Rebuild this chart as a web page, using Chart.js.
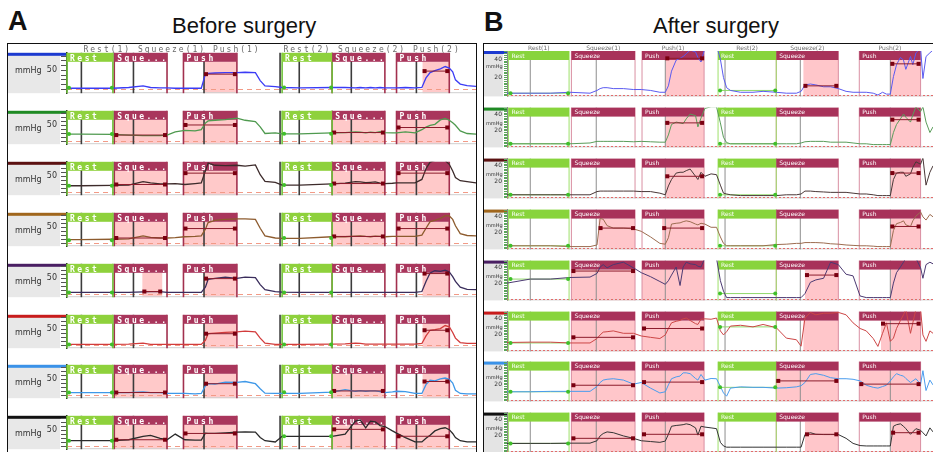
<!DOCTYPE html>
<html>
<head>
<meta charset="utf-8">
<title>Anorectal manometry before and after surgery</title>
<script src="https://cdn.jsdelivr.net/npm/chart.js@4.4.1/dist/chart.umd.min.js"></script>
<style>
  body { margin: 0; width: 933px; height: 452px; overflow: hidden; background: #fff; position: relative; font-family: "Liberation Sans", Arial, sans-serif; }
  .tag { position: absolute; font-weight: bold; font-size: 27px; line-height: 1; color: #111; }
  .title { position: absolute; font-size: 22px; line-height: 1; color: #111; }
  .frame { position: absolute; border: 1.5px solid #111; box-sizing: border-box; }
  canvas { position: absolute; }
</style>
</head>
<body>
<div class="tag" style="left:8px;top:8px">A</div>
<div class="title" style="left:172px;top:15px">Before surgery</div>
<div class="tag" style="left:484px;top:9px">B</div>
<div class="title" style="left:653px;top:15px">After surgery</div>
<div class="frame" style="left:7px;top:43px;width:470px;height:420px"></div>
<div class="frame" style="left:483px;top:43px;width:460px;height:420px"></div>
<script>
// sensor colours, top to bottom
const channelColors = ['#1c3ad0', '#1f8a24', '#5c1212', '#a0661c', '#4a1f63', '#c81c1c', '#3a92e8', '#111111'];
const traceColorsA = ['#3b3bf5', '#4f9a4f', '#3d2b2b', '#8d5b2e', '#3a2d5c', '#d23c3c', '#3e98e8', '#2a2a2a'];
const traceColorsB = ['#5a5af0', '#5a9c5a', '#4a3838', '#9c6c50', '#4c3a72', '#cc4646', '#4a9cee', '#333333'];

//panel A - before surgery (time in s, pressure in mmHg)
const timeA = [1.0, 3.0, 7.7, 10.0, 12.1, 13.2, 14.6, 15.6, 16.8, 18.2, 19.7, 20.6, 21.2, 21.6, 22.6, 24.1, 25.8, 27.0, 28.5, 29.2, 29.9, 31.4, 32.4, 35.0, 39.7, 41.6, 43.1, 43.8, 44.6, 45.3, 46.0, 46.7, 47.4, 48.5, 49.1, 50.4, 51.8, 52.8, 53.4, 54.0, 54.7, 55.5, 56.2, 56.8, 57.3, 57.7, 58.4, 59.4, 60.7];
const a1 = [3, 3, 3, 5, 9, 5, 4, 4, 3, 3, 3, 3, 40, 42, 43, 44, 44, 45, 44, 23, 9, 7, 5, 4, 5, 5, 4, 5, 4, 5, 4, 5, 4, 4, 4, 5, 4, 5, 30, 44, 49, 54, 60, 56, 46, 25, 14, 10, 8];
const a2 = [22, 22, 21, 19, 17, 17, 17, 19, 29, 34, 32, 36, 57, 64, 66, 68, 73, 66, 62, 45, 24, 26, 23, 23, 26, 27, 29, 28, 26, 28, 27, 30, 27, 26, 26, 29, 26, 36, 44, 50, 53, 67, 72, 66, 58, 50, 32, 24, 22];
const a3 = [20, 20, 21, 22, 33, 29, 26, 26, 27, 24, 27, 29, 67, 92, 85, 84, 85, 82, 86, 55, 34, 31, 22, 22, 26, 28, 33, 32, 30, 31, 32, 28, 27, 28, 29, 29, 29, 40, 74, 95, 100, 100, 100, 88, 67, 46, 36, 33, 29];
const a4 = [11, 11, 12, 13, 23, 18, 16, 16, 17, 20, 21, 23, 44, 65, 72, 75, 77, 77, 75, 47, 23, 16, 15, 15, 20, 20, 22, 23, 21, 20, 22, 21, 20, 21, 21, 21, 21, 25, 47, 68, 72, 78, 87, 86, 75, 55, 30, 24, 23];
const a5 = [5, 5, 5, 5, 7, 8, 8, 5, 5, 5, 5, 5, 22, 47, 50, 54, 50, 54, 52, 30, 14, 8, 6, 5, 5, 5, 5, 5, 5, 5, 5, 5, 5, 5, 5, 5, 5, 8, 40, 67, 74, 72, 76, 70, 55, 40, 22, 15, 14];
const a6 = [2, 2, 2, 3, 6, 2, 2, 2, 2, 2, 2, 2, 15, 36, 38, 40, 42, 44, 42, 22, 6, 2, 2, 2, 3, 4, 6, 5, 3, 3, 3, 3, 3, 3, 3, 3, 3, 5, 29, 47, 49, 52, 62, 58, 40, 22, 8, 5, 5];
const a7 = [8, 8, 8, 8, 10, 8, 8, 5, 5, 5, 4, 5, 29, 36, 35, 41, 40, 43, 36, 20, 6, 5, 5, 5, 9, 17, 12, 14, 12, 13, 13, 11, 8, 10, 12, 11, 5, 5, 33, 47, 45, 51, 54, 50, 38, 15, 5, 4, 4];
const a8 = [17, 17, 17, 20, 31, 34, 24, 20, 38, 20, 19, 19, 41, 40, 40, 42, 44, 45, 44, 27, 17, 13, 31, 31, 31, 38, 79, 83, 58, 79, 77, 65, 62, 48, 41, 27, 13, 13, 25, 34, 48, 55, 58, 52, 40, 27, 17, 13, 13];

const phasesA = [[1.0, 7.7], [7.9, 15.6], [18.0, 25.8], [32.4, 39.7], [39.7, 47.4], [49.1, 56.8]];
const phaseTextA = ['Rest', 'Sque...', 'Push', 'Rest', 'Sque...', 'Push'];
// analysis windows per sensor: [start, end, mean level]
const windowsA = [
    [[21.0, 25.8, 40], [52.9, 56.8, 48]],
    [[7.9, 15.6, 19], [18.0, 25.8, 51], [39.7, 47.4, 27], [49.1, 56.8, 43]],
    [[7.9, 15.6, 24], [18.0, 25.8, 60], [39.7, 47.4, 27], [49.1, 56.8, 60]],
    [[7.9, 15.6, 16], [18.0, 25.8, 46], [39.7, 47.4, 21], [49.1, 56.8, 46]],
    [[12.0, 14.9, 8], [21.0, 25.8, 49], [52.9, 56.8, 65]],
    [[21.0, 25.8, 36], [52.9, 56.8, 47]],
    [[7.9, 15.6, 8], [21.0, 25.8, 36], [39.7, 47.4, 13], [52.9, 56.8, 43]],
    [[7.9, 15.6, 20], [18.0, 25.8, 40], [39.7, 47.4, 53], [49.1, 56.8, 31]]
];
const restA = [[4, 5], [22, 23], [20, 22], [9, 16], [5, 5], [2, 2], [8, 9], [17, 31]];
const cursorsA = [3.1, 10.7, 21.0, 32.1, 34.9, 42.5, 52.0];
const topTextA = ['Rest(1) Squeeze(1) Push(1)', 'Rest(2) Squeeze(2) Push(2)'];
const topTimesA = [3.4, 32.6];
const tickTimesA = [20, 40, 60];
const tickLabelsA = ['00:20', '00:40', '01:00'];

//panel B - after surgery
const timeB = [0.1, 3.1, 5.7, 8.2, 10.8, 11.7, 12.1, 12.5, 13.0, 13.8, 15.1, 16.4, 17.4, 18.6, 19.8, 20.5, 20.9, 21.3, 21.9, 22.4, 22.8, 23.2, 23.7, 24.4, 24.7, 25.1, 25.6, 26.4, 27.1, 27.6, 28.0, 28.4, 28.9, 30.2, 31.8, 33.1, 34.8, 36.1, 37.4, 38.0, 38.5, 39.2, 39.9, 40.9, 41.8, 42.8, 43.8, 44.7, 45.6, 46.4, 47.3, 47.9, 48.5, 49.0, 49.5, 49.9, 50.3, 50.8, 51.2, 51.5, 52.1, 52.4, 52.8, 53.4, 53.7, 54.1, 54.6, 55.0];
const b1 = [3, 3, 3, 4, 3, 6, 8, 9, 9, 8, 8, 7, 7, 6, 4, 4, 11, 27, 39, 41, 43, 46, 50, 48, 42, 37, 52, 55, 55, 40, 20, 9, 6, 4, 4, 5, 4, 3, 3, 5, 12, 13, 12, 10, 10, 8, 5, 4, 4, 4, 3, 1, 4, 2, 2, 21, 34, 42, 39, 29, 43, 34, 47, 52, 19, 43, 47, 50];
const b2 = [4, 4, 4, 4, 5, 7, 7, 7, 7, 7, 7, 6.5, 7, 6.5, 6, 6, 15, 28, 31, 30, 29, 35, 41, 39, 25, 36, 48, 50, 50, 30, 12, 5.5, 4, 4, 4, 4, 4, 4, 4, 5, 6.5, 7, 7, 7, 6, 6, 6, 5, 4, 4, 3, 3, 3, 3, 3, 18, 28, 35, 41, 37, 31, 40, 50, 44, 50, 31, 18, 25];
const b3 = [4, 4, 4, 4, 4, 8, 8.6, 8.6, 8.6, 8.6, 8.6, 8.6, 8, 8, 6, 4, 15, 23, 31, 32, 32, 34, 36, 27, 23, 32, 27, 30, 29, 16, 6, 5, 4, 3, 3, 3, 3, 4, 4, 5, 8.6, 8.6, 8, 7.5, 7, 7, 7, 6, 5, 5, 4, 3, 3, 3, 3, 23, 31, 32, 32, 27, 30, 38, 45, 42, 50, 16, 32, 40];
const b4 = [4, 4, 4, 3, 3, 5, 38, 37, 29, 26, 26, 25, 22, 15, 7, 6, 14, 31, 32, 32.5, 34, 35, 34, 31, 30, 32, 31, 27, 27, 15, 7, 4, 4, 4, 4, 4, 5.5, 6, 7, 7, 8, 8, 8, 7.5, 6.5, 6, 5, 4.5, 4, 4, 3.5, 3, 3, 3, 3, 23, 31.5, 33, 35, 30, 28, 35, 41, 46, 40, 36, 43, 40];
const b5 = [21, 26, 26, 28, 28.5, 33, 41, 44, 40, 44, 47, 40, 34, 29, 23, 19.5, 24, 31, 41, 18, 41, 47, 45, 44, 42, 41, 52, 52, 52, 24, 11, 3, 3, 3, 3, 3, 3, 3, 3, 3, 8, 22, 25, 27, 47, 44, 32, 30, 5, 3, 3, 3, 3, 3, 3, 21, 34, 41, 47, 52, 52, 52, 52, 40, 27, 44, 47, 45];
const b6 = [10.6, 11, 11, 10, 10, 15.5, 20, 23.5, 24, 25, 22, 22, 18.7, 17, 15.5, 20, 28, 35, 37, 38, 40, 41, 38, 34, 33, 39.5, 40, 39.5, 41, 25, 20, 24, 31, 32, 30, 33, 29, 16, 14, 6, 41, 48, 45, 47, 47, 48, 45, 35, 28, 25, 15.5, 5.7, 22, 35, 12, 16, 28, 38, 45, 52, 22, 35, 52, 52, 20, 12, 25, 22];
const b7 = [11.5, 11.5, 12, 12, 12, 18, 23, 26, 27, 27.7, 26, 21, 23, 16, 10, 11.5, 20, 27.7, 30, 31, 35, 35, 34, 28, 26, 33, 26, 28, 27.7, 18, 10, 6, 16, 17.6, 17, 17, 16, 16.5, 17.6, 19, 23, 33, 34, 32, 29, 27.7, 27.7, 27, 25, 19.6, 17, 16, 18, 19.6, 25, 30, 34, 32, 31, 28, 23, 25, 27.7, 21, 37.7, 13, 26, 20];
const b8 = [10.7, 10.7, 10.7, 11, 11, 14, 20, 23, 25, 24, 20, 17, 14, 13, 12, 13.6, 22, 32, 33, 33.5, 34, 35, 34, 30, 21, 32, 31, 30, 29, 12, 7.5, 6, 6, 6, 6, 6, 6, 6, 6, 6, 21.7, 24, 22, 21.7, 21.7, 21.7, 17, 10.7, 8, 7.5, 7.5, 7.5, 7.5, 7.5, 7.5, 32, 34, 35, 32, 29, 22, 25, 29, 27, 24, 20, 30, 25];

const phasesB = [[0.3, 8.1], [8.4, 16.6], [17.5, 25.5], [27.3, 34.8], [34.8, 42.8], [45.5, 53.4]];
const phaseTextB = ['Rest', 'Squeeze', 'Push', 'Rest', 'Squeeze', 'Push'];
const windowsB = [
    [[20.5, 25.5, 41], [38.3, 42.8, 11], [49.5, 53.4, 35]],
    [[20.5, 25.5, 30], [49.5, 53.4, 34]],
    [[20.5, 25.5, 27], [49.5, 53.4, 31]],
    [[11.9, 16.6, 26], [20.1, 25.5, 26], [49.5, 53.4, 28]],
    [[8.4, 16.6, 36], [17.5, 25.5, null], [38.5, 42.8, 31], [49.6, 53.4, null]],
    [[8.4, 16.6, 17], [17.5, 25.5, 28], [38.3, 42.8, null], [48.3, 53.4, 34]],
    [[8.4, 16.6, 19.6], [17.5, 25.5, 23.5], [34.8, 42.8, 25], [45.5, 53.4, 21]],
    [[8.4, 16.6, 17], [17.5, 25.5, 22], [38.5, 42.8, 22], [49.6, 53.4, 24]]
];
const restB = [[3, 6], [4, 4], [4, 4], [4, 4], [26, 8], [10, 30], [11.5, 17], [10.7, null]];
const cursorsB = [3.1, 11.6, 20.5, 28.2, 37.9, 49.5];
const topTextB = ['Rest(1)', 'Squeeze(1)', 'Push(1)', 'Rest(2)', 'Squeeze(2)', 'Push(2)'];
const tickTimesB = [5, 10, 15, 20, 25, 30, 35, 40, 45, 50, 55];
const tickLabelsB = ['00:05', '00:10', '00:15', '00:20', '00:25', '00:30', '00:35', '00:40', '00:45', '00:50', '00:55'];

const panels = [
    {
        left: 8, width: 468, axisWidth: 59, boxWidth: 52,
        tMin: 1.0, tMax: 60.7, yMin: -10, yMax: 96, yStep: 12.5, yLabels: [50],
        times: timeA, series: [a1, a2, a3, a4, a5, a6, a7, a8], colors: traceColorsA,
        phases: phasesA, phaseText: phaseTextA, windows: windowsA, rest: restA, cursors: cursorsA,
        topText: topTextA, topTimes: topTimesA, tickTimes: tickTimesA, tickLabels: tickLabelsA,
        look: {
            lineW: 1.3, box: '#e8e8e8', barH: 3, tickLen: 6, tickColor: '#555', border: '#222', borderW: 1.5,
            labelFont: '8px "DejaVu Sans"', labelPad: 4, unitFont: '8px "DejaVu Sans"', unitX: 7, unitY: 20,
            pink: '#ffc9c9', zero: '#f29a86', zeroDash: [5, 4], zeroAt: 0,
            cursor: '#3c3c3c', cursorW: 1.6, restLine: '#6fc23a', pushLine: '#a2304e', edgeW: 1.6,
            green: '#8ed13c', maroon: '#a9365c', headH: 9, headFont: 'bold 8px "DejaVu Sans Mono"', headSpacing: '2.5px', headY: 8,
            restMark: null,
            topFont: '8px "DejaVu Sans Mono"', topSpacing: '2px', topAlign: 'left',
            timeFont: '10px "DejaVu Sans"', timeColor: '#555', timeY: 45
        }
    },
    {
        left: 484, width: 449, axisWidth: 23, boxWidth: 19,
        tMin: 0.1, tMax: 55.0, yMin: -0.5, yMax: 49, yStep: 2, yLabels: [20, 40],
        times: timeB, series: [b1, b2, b3, b4, b5, b6, b7, b8], colors: traceColorsB,
        phases: phasesB, phaseText: phaseTextB, windows: windowsB, rest: restB, cursors: cursorsB,
        topText: topTextB, topTimes: phasesB.map(ph => (ph[0] + ph[1]) / 2), tickTimes: tickTimesB, tickLabels: tickLabelsB,
        look: {
            lineW: 1, box: '#e4e4e4', barH: 3, tickLen: 3, tickColor: '#5aa55a', border: '#888', borderW: 1,
            labelFont: '6px "DejaVu Sans"', labelPad: 2, unitFont: '5px "DejaVu Sans"', unitX: 2, unitY: 17,
            pink: '#ffc6ca', zero: '#e26b6b', zeroDash: [2, 2], zeroAt: 1,
            cursor: '#8e8e8e', cursorW: 1, restLine: '#9ee06a', pushLine: '#d98fa2', edgeW: 1,
            green: '#88d43c', maroon: '#a8325a', headH: 9, headFont: '6px "DejaVu Sans"', headSpacing: '0px', headY: 6.5,
            restMark: '#8fd86a',
            topFont: '6px "DejaVu Sans"', topSpacing: '0px', topAlign: 'center',
            timeFont: '7px "DejaVu Sans"', timeColor: '#444', timeY: 45
        }
    }
];

function decor(p, k) {
    const L = p.look;
    return {
        id: 'decor',
        beforeDraw(chart) {
            const { ctx, chartArea: a } = chart;
            ctx.save();
            ctx.fillStyle = L.box;
            ctx.fillRect(0, a.top, p.boxWidth, a.bottom - a.top);
            ctx.fillStyle = channelColors[k];
            ctx.fillRect(0, a.top, a.left, L.barH);
            ctx.fillStyle = '#333';
            ctx.font = L.unitFont;
            ctx.fillText('mmHg', L.unitX, a.top + L.unitY);
            ctx.restore();
        },
        beforeDatasetsDraw(chart) {
            const { ctx, chartArea: a, scales: { x, y } } = chart;
            const top = a.top, bot = a.bottom, hh = L.headH;
            ctx.save();
            // analysis windows
            ctx.fillStyle = L.pink;
            p.windows[k].forEach(w => {
                const x0 = x.getPixelForValue(w[0]), x1 = x.getPixelForValue(w[1]);
                ctx.fillRect(x0, top + hh, x1 - x0, bot - top - hh);
            });
            // row separator + zero line
            ctx.lineWidth = 1;
            ctx.strokeStyle = '#cfcfcf';
            ctx.beginPath(); ctx.moveTo(a.left, bot - 0.5); ctx.lineTo(a.right, bot - 0.5); ctx.stroke();
            const y0 = Math.round(y.getPixelForValue(L.zeroAt)) + 0.5;
            ctx.strokeStyle = L.zero;
            ctx.setLineDash(L.zeroDash);
            ctx.beginPath(); ctx.moveTo(a.left, y0); ctx.lineTo(a.right, y0); ctx.stroke();
            ctx.setLineDash([]);
            // cursors
            ctx.strokeStyle = L.cursor;
            ctx.lineWidth = L.cursorW;
            p.cursors.forEach(t => {
                const xx = x.getPixelForValue(t);
                ctx.beginPath(); ctx.moveTo(xx, top); ctx.lineTo(xx, bot); ctx.stroke();
            });
            // phase borders, maroon first then green
            ctx.lineWidth = L.edgeW;
            [false, true].forEach(restPass => {
                p.phases.forEach((ph, i) => {
                    if ((i % 3 === 0) !== restPass) return;
                    ctx.strokeStyle = restPass ? L.restLine : L.pushLine;
                    ph.forEach(t => {
                        const xx = x.getPixelForValue(t);
                        ctx.beginPath(); ctx.moveTo(xx, top); ctx.lineTo(xx, bot); ctx.stroke();
                    });
                });
            });
            // rest level line (under the trace)
            if (L.restMark) {
                ctx.strokeStyle = L.restMark;
                ctx.lineWidth = 1;
                p.rest[k].forEach((lv, j) => {
                    if (lv == null) return;
                    const ph = p.phases[j * 3];
                    const yy = y.getPixelForValue(lv);
                    ctx.beginPath(); ctx.moveTo(x.getPixelForValue(ph[0]) + 2, yy); ctx.lineTo(x.getPixelForValue(ph[1]) - 1, yy); ctx.stroke();
                });
            }
            // phase headers
            ctx.font = L.headFont;
            ctx.letterSpacing = L.headSpacing;
            p.phases.forEach((ph, i) => {
                const x0 = x.getPixelForValue(ph[0]), x1 = x.getPixelForValue(ph[1]);
                ctx.fillStyle = i % 3 === 0 ? L.green : L.maroon;
                ctx.fillRect(x0, top, x1 - x0, hh);
                ctx.fillStyle = '#fff';
                ctx.fillText(p.phaseText[i], x0 + 3, top + L.headY);
            });
            ctx.letterSpacing = '0px';
            ctx.restore();
        },
        afterDatasetsDraw(chart) {
            const { ctx, scales: { x, y } } = chart;
            ctx.save();
            ctx.lineWidth = 1;
            // window mean markers
            p.windows[k].forEach(w => {
                if (w[2] == null) return;
                const x0 = x.getPixelForValue(w[0]) + 2, x1 = x.getPixelForValue(w[1]) - 2;
                const yy = y.getPixelForValue(w[2]);
                ctx.strokeStyle = '#8c1c2c';
                ctx.beginPath(); ctx.moveTo(x0, yy); ctx.lineTo(x1, yy); ctx.stroke();
                ctx.fillStyle = '#7a0010';
                ctx.fillRect(x0 - 2, yy - 2, 4, 4);
                ctx.fillRect(x1 - 2, yy - 2, 4, 4);
            });
            // rest end dots
            p.rest[k].forEach((lv, j) => {
                if (lv == null) return;
                const ph = p.phases[j * 3];
                const yy = y.getPixelForValue(lv);
                ctx.fillStyle = '#3fbf2a';
                [x.getPixelForValue(ph[0]) + 2, x.getPixelForValue(ph[1]) - 1].forEach(xx => {
                    ctx.beginPath(); ctx.arc(xx, yy, 2, 0, Math.PI * 2); ctx.fill();
                });
            });
            ctx.restore();
        },
        afterDraw(chart) {
            const { ctx, chartArea: a, scales: { x } } = chart;
            ctx.save();
            // labels above first row
            if (k === 0) {
                ctx.font = L.topFont;
                ctx.letterSpacing = L.topSpacing;
                ctx.fillStyle = '#6a6a6a';
                ctx.textAlign = L.topAlign;
                p.topText.forEach((s, i) => ctx.fillText(s, x.getPixelForValue(p.topTimes[i]), a.top - 1));
                ctx.letterSpacing = '0px';
            }
            // time labels on last row
            if (k === 7) {
                ctx.font = L.timeFont;
                ctx.fillStyle = L.timeColor;
                ctx.textAlign = 'center';
                p.tickTimes.forEach((t, i) => ctx.fillText(p.tickLabels[i], x.getPixelForValue(t), a.top + L.timeY));
            }
            ctx.restore();
        }
    };
}

function makeRow(p, k) {
    const L = p.look;
    const rowTop = Math.round(51 + 50.9 * k);
    const extra = k === 0 ? 7 : 0;
    const canvas = document.createElement('canvas');
    canvas.width = p.width;
    canvas.height = 51 + extra;
    canvas.style.left = p.left + 'px';
    canvas.style.top = (rowTop - extra) + 'px';
    document.body.appendChild(canvas);

    new Chart(canvas, {
        type: 'line',
        data: {
            datasets: [{
                data: p.times.map((t, i) => ({ x: t, y: p.series[k][i] })),
                borderColor: p.colors[k],
                borderWidth: L.lineW,
                pointRadius: 0,
                tension: 0
            }]
        },
        options: {
            responsive: false,
            animation: false,
            events: [],
            layout: { padding: { top: extra, left: 0, right: 0, bottom: 0 } },
            plugins: { legend: { display: false }, tooltip: { enabled: false } },
            scales: {
                x: { type: 'linear', min: p.tMin, max: p.tMax, display: false },
                y: {
                    min: p.yMin,
                    max: p.yMax,
                    afterFit: s => { s.width = p.axisWidth; },
                    border: { display: true, color: L.border, width: L.borderW },
                    grid: { drawOnChartArea: false, drawTicks: true, tickLength: L.tickLen, color: L.tickColor },
                    ticks: {
                        stepSize: p.yStep,
                        autoSkip: false,
                        includeBounds: false,
                        padding: L.labelPad,
                        color: '#333',
                        font: { family: 'DejaVu Sans', size: parseInt(L.labelFont) },
                        callback: v => p.yLabels.includes(v) ? String(v) : ''
                    }
                }
            }
        },
        plugins: [decor(p, k)]
    });
}

panels.forEach(p => {
    for (let k = 0; k < 8; k++) makeRow(p, k);
});
</script>
</body>
</html>
